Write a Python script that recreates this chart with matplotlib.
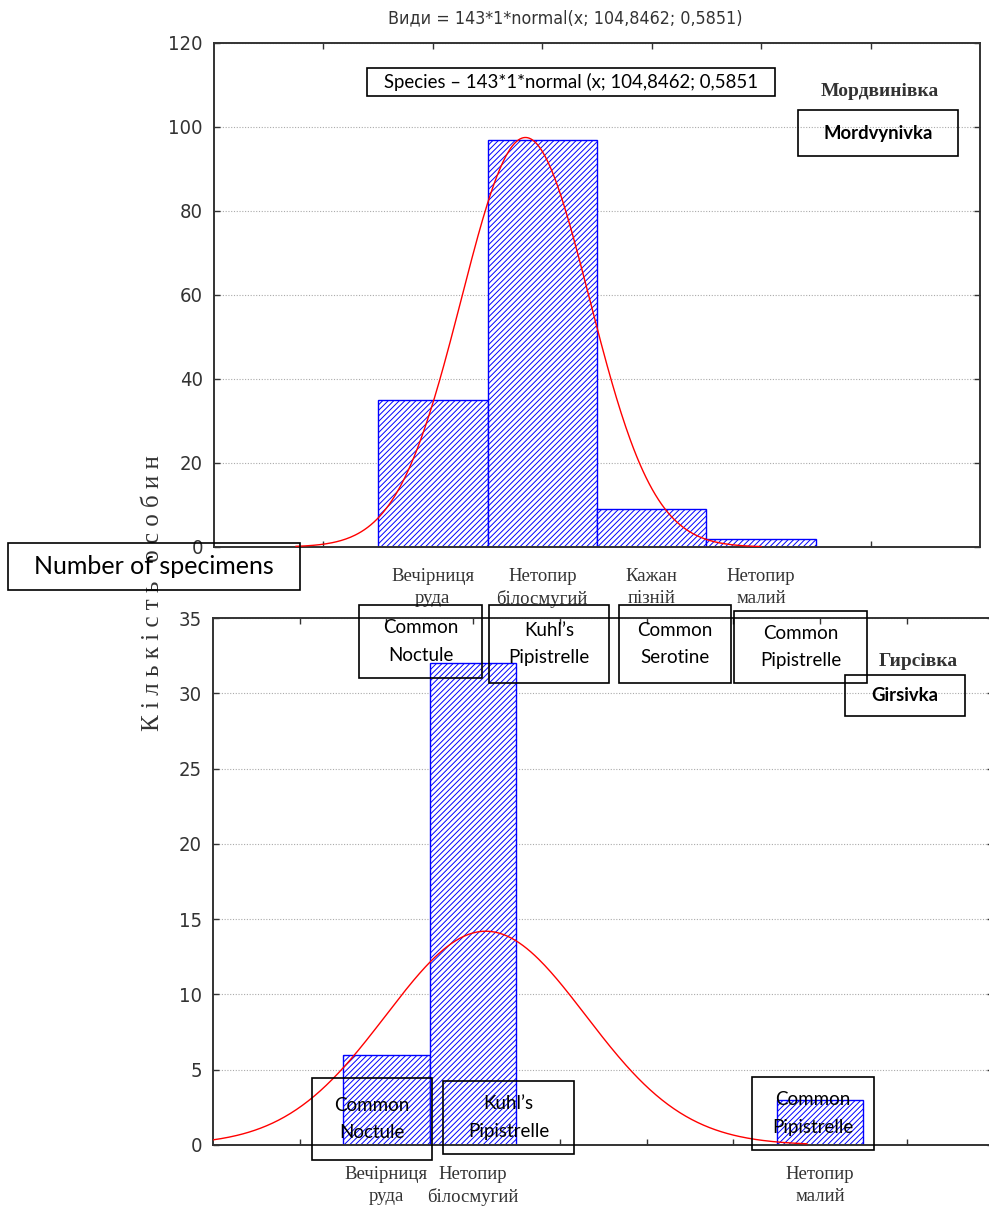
import numpy as np
import matplotlib
matplotlib.use('Agg')
import matplotlib.pyplot as plt
from matplotlib.patches import Rectangle

W, H = 989, 1215

# Мордвинівка (top panel)
top_codes = [104, 105, 106, 107]
top_counts = [35, 97, 9, 2]
top_labels = ['Вечірниця\nруда', 'Нетопир\nбілосмугий', 'Кажан\nпізній', 'Нетопир\nмалий']
top_n, top_mean, top_sd = 143, 104.8462, 0.5851
top_curve_range = (102.75, 107.0)

# Гирсівка (bottom panel)
bot_codes = [2, 3, 7]
bot_counts = [6, 32, 3]
bot_labels = ['Вечірниця\nруда', 'Нетопир\nбілосмугий', 'Нетопир\nмалий']
bot_n, bot_mean, bot_sd = 41, 3.146, 1.152
bot_curve_range = (0.0, 6.85)

title = 'Види = 143*1*normal(x; 104,8462; 0,5851)'
ylab = 'К і л ь к і с т ь   о с о б и н'

NARROW = ['Liberation Sans Narrow', 'DejaVu Sans']
SERIF = ['Liberation Serif', 'DejaVu Serif']
CAL = ['Lato', 'DejaVu Sans']
GREY = '#333333'

plt.rcParams['hatch.linewidth'] = 0.7


def fx(x):
    return x / W


def fy(y):
    return 1 - y / H


def normal_curve(n, mu, sd, lo, hi):
    xs = np.linspace(lo, hi, 300)
    return xs, n * np.exp(-0.5 * ((xs - mu) / sd) ** 2) / (sd * np.sqrt(2 * np.pi))


def style_axes(ax):
    for s in ax.spines.values():
        s.set_color(GREY)
        s.set_linewidth(1.4)
    ax.tick_params(direction='in', top=True, right=True, length=4, color=GREY,
                   labelcolor=GREY, width=1)
    ax.tick_params(axis='y', pad=8, labelsize=14.5)
    ax.tick_params(axis='x', pad=15, labelsize=13.5)
    for t in ax.get_yticklabels():
        t.set_family(NARROW)
        t.set_fontstretch('condensed')
    for t in ax.get_xticklabels():
        t.set_family(SERIF)
    ax.yaxis.grid(True, linestyle=(0, (1, 1.5)), color='#aaaaaa', lw=0.8)
    ax.set_axisbelow(True)


fig = plt.figure(figsize=(W / 100, H / 100), dpi=100)

# top axes
ax1 = fig.add_axes([fx(214), fy(547), fx(980) - fx(214), fy(43) - fy(547)])
ax1.bar(top_codes, top_counts, width=1.0, facecolor='white', edgecolor='blue',
        hatch='//////', lw=1, zorder=2)
cx, cy = normal_curve(top_n, top_mean, top_sd, *top_curve_range)
ax1.plot(cx, cy, color='red', lw=1, zorder=3)
ax1.set_xlim(102, 109)
ax1.set_ylim(0, 120)
ax1.set_yticks(range(0, 121, 20))
ax1.set_xticks(range(103, 109))
ax1.set_xticklabels(['' if c not in top_codes else top_labels[top_codes.index(c)]
                     for c in range(103, 109)], linespacing=1.4)
style_axes(ax1)

# bottom axes
ax2 = fig.add_axes([fx(213), fy(1145), 9 * 86.7 / W, fy(618) - fy(1145)])
ax2.bar(bot_codes, bot_counts, width=1.0, facecolor='white', edgecolor='blue',
        hatch='//////', lw=1, zorder=2)
cx, cy = normal_curve(bot_n, bot_mean, bot_sd, *bot_curve_range)
ax2.plot(cx, cy, color='red', lw=1, zorder=3)
ax2.set_xlim(0, 9)
ax2.set_ylim(0, 35)
ax2.set_yticks(range(0, 36, 5))
ax2.set_xticks(range(1, 9))
ax2.set_xticklabels(['' if c not in bot_codes else bot_labels[bot_codes.index(c)]
                     for c in range(1, 9)], linespacing=1.4)
style_axes(ax2)

fig.text(fx(565), fy(18), title, ha='center', va='center', fontsize=12.8,
         family=NARROW, fontstretch='condensed', color=GREY)
fig.text(fx(153), fy(593), ylab, ha='center', va='center', rotation=90,
         fontsize=18, family=SERIF, color=GREY)
fig.text(fx(880), fy(92), 'Мордвинівка', ha='center', va='center', fontsize=14,
         family=SERIF, weight='bold', color=GREY)
fig.text(fx(918), fy(661), 'Гирсівка', ha='center', va='center', fontsize=14,
         family=SERIF, weight='bold', color=GREY)


def box(x0, y0, x1, y1, text, size=13.5, weight='normal'):
    fig.add_artist(Rectangle((fx(x0), fy(y1)), fx(x1) - fx(x0), fy(y0) - fy(y1),
                             transform=fig.transFigure, fill=False,
                             ec='black', lw=1.2, zorder=10))
    fig.text((fx(x0) + fx(x1)) / 2, (fy(y0) + fy(y1)) / 2, text,
             ha='center', va='center', fontsize=size, weight=weight,
             family=CAL, color='black', linespacing=1.75, zorder=11)


box(367, 68, 775, 96, 'Species – 143*1*normal (x; 104,8462; 0,5851', size=13.4)
box(798, 110, 958, 156, 'Mordvynivka', size=13.3, weight='bold')
box(8, 543, 300, 590, 'Number of specimens', size=18)
box(359, 605, 482, 678, 'Common\nNoctule')
box(489, 605, 609, 683, 'Kuhl’s\nPipistrelle')
box(619, 605, 731, 683, 'Common\nSerotine')
box(734, 611, 867, 683, 'Common\nPipistrelle')
box(845, 675, 965, 716, 'Girsivka', size=13.3, weight='bold')
box(312, 1078, 432, 1160, 'Common\nNoctule')
box(443, 1081, 574, 1154, 'Kuhl’s\nPipistrelle')
box(752, 1077, 874, 1150, 'Common\nPipistrelle')

fig.savefig('out.png', dpi=100)
